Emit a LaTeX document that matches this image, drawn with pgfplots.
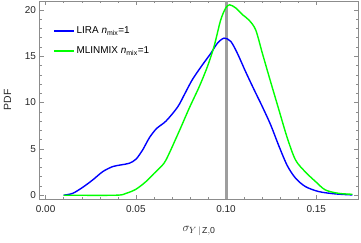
\documentclass[border=0pt]{standalone}
\usepackage{fontspec}
\setmainfont{Liberation Sans}
\usepackage{pgfplots}
\pgfplotsset{compat=1.18}
\definecolor{mblue}{RGB}{0,0,255}
\definecolor{mgreen}{RGB}{0,255,0}
\definecolor{vgray}{gray}{0.62}
\begin{document}
\begin{tikzpicture}
\begin{axis}[
  scale only axis,
  width=319bp, height=198bp,
  xmin=-0.0034, xmax=0.1734,
  ymin=-0.41, ymax=20.96,
  xtick={0,0.05,0.10,0.15},
  xticklabels={0.00,0.05,0.10,0.15},
  ytick={0,5,10,15,20},
  minor x tick num=4,
  minor y tick num=4,
  tick align=inside,
  major tick length=4.5bp,
  minor tick length=2.5bp,
  axis line style={black!45},
  every tick/.style={black!45},
  /pgf/number format/assume math mode=true,
  tick label style={font=\fontsize{10}{12}\selectfont, text=black!85},
  xticklabel style={yshift=-3bp},
  xlabel={$\sigma_{Y\,|\,\mathrm{Z,0}}$},
  ylabel={PDF},
  label style={font=\fontsize{10.5}{12}\selectfont, text=black!85},
  xlabel style={font=\fontsize{12.5}{14}\selectfont, at={(axis description cs:0.5,0)}, anchor=center, yshift=-32bp},
  ylabel style={at={(axis description cs:0,0.5)}, anchor=center, rotate=0, yshift=32bp},
  legend style={at={(axis description cs:0,1)}, anchor=north west, xshift=11bp, yshift=-21bp,
    draw=none, fill=none, font=\fontsize{10}{12}\selectfont, row sep=6bp,
    nodes={inner sep=1.5bp, minimum height=14bp}},
  legend cell align=left,
  legend image code/.code={\draw[#1] (0bp,0bp) -- (20bp,0bp);},
]
\addplot[vgray, line width=3bp, forget plot] coordinates {(0.1,-0.41) (0.1,20.96)};
\addplot[mblue, line width=1.4bp, smooth] coordinates {
(0.010,0.00) (0.015,0.20) (0.0206,0.86) (0.0261,1.65) (0.0317,2.55) (0.0372,3.09)
(0.0418,3.27) (0.0464,3.45) (0.0501,3.89) (0.0538,4.90) (0.0575,6.20) (0.0615,7.20)
(0.0667,8.00) (0.0731,9.50) (0.0770,10.90) (0.0814,12.50) (0.0869,14.07) (0.0915,15.30)
(0.0952,16.40) (0.0989,16.95) (0.1026,16.60) (0.1063,15.30) (0.1109,13.30) (0.1160,11.20)
(0.1200,9.60) (0.1247,7.60) (0.1293,5.30) (0.1339,3.20) (0.1385,1.84) (0.1440,0.93)
(0.1514,0.39) (0.1606,0.14) (0.1700,0.03)};
\addlegendentry{LIRA \textit{n}\textsubscript{mix}=1}
\addplot[mgreen, line width=1.4bp, smooth] coordinates {
(0.010,0.00) (0.039,0.00) (0.0446,0.20) (0.0501,0.65) (0.0556,1.47) (0.0602,2.37)
(0.0630,2.90) (0.0667,3.80) (0.0740,6.90) (0.0796,9.40) (0.0851,11.70) (0.0897,13.90)
(0.0934,16.10) (0.0970,18.90) (0.0998,20.20) (0.1020,20.55) (0.1054,20.20) (0.1090,19.50)
(0.1127,18.90) (0.1164,17.85) (0.1200,15.40) (0.1240,12.70) (0.1293,9.20)
(0.1339,6.20) (0.1385,3.80) (0.1440,2.50) (0.1496,1.47) (0.1550,0.57) (0.1624,0.20)
(0.1700,0.10)};
\addlegendentry{MLINMIX \textit{n}\textsubscript{mix}=1}
\end{axis}
\pgfresetboundingbox
\path ([xshift=-39.5bp,yshift=-44bp]current axis.south west) rectangle ([xshift=2.5bp,yshift=1bp]current axis.north east);
\end{tikzpicture}
\end{document}
